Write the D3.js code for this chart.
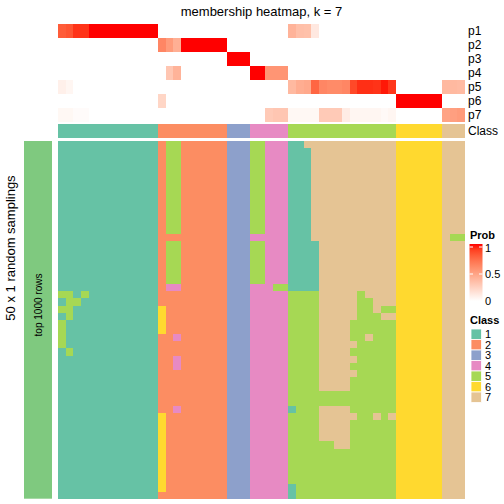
<!DOCTYPE html>
<html><head><meta charset="utf-8">
<script src="https://cdn.jsdelivr.net/npm/d3@7"></script>
<style>
html,body{margin:0;padding:0;background:#fff;}
svg{display:block;font-family:"Liberation Sans",Arial,Helvetica,sans-serif;}
</style></head>
<body><svg id="c" width="504" height="504"></svg>
<script>
// ---- data ----
const probNames = ["p1","p2","p3","p4","p5","p6","p7"];
// membership probabilities per column (53 columns, grouped by class 1..7)
const p1 = [0.80,0.83,0.93,0.93,1,1,1,1,1,1,1,1,1, 0,0,0,0,0,0,0,0,0, 0,0,0, 0,0,0,0,0, 0.40,0.34,0.33,0.12,0,0,0,0,0,0,0,0,0,0, 0,0,0,0,0,0, 0,0,0];
const p2 = [0,0,0,0,0,0,0,0,0,0,0,0,0, 0.62,0.52,0.42,1,1,1,1,1,1, 0,0,0, 0,0,0,0,0, 0,0,0,0,0,0,0,0,0,0,0,0,0,0, 0,0,0,0,0,0, 0,0,0];
const p3 = [0,0,0,0,0,0,0,0,0,0,0,0,0, 0,0,0,0,0,0,0,0,0, 1,1,1, 0,0,0,0,0, 0,0,0,0,0,0,0,0,0,0,0,0,0,0, 0,0,0,0,0,0, 0,0,0];
const p4 = [0,0,0,0,0,0,0,0,0,0,0,0,0, 0,0.30,0.40,0,0,0,0,0,0, 0,0,0, 1,1,0.55,0.55,0.55, 0,0,0,0,0,0,0,0,0,0,0,0,0,0, 0,0,0,0,0,0, 0,0,0];
const p5 = [0.08,0.05,0,0,0,0,0,0,0,0,0,0,0, 0,0,0,0,0,0,0,0,0, 0,0,0, 0,0,0,0,0, 0.37,0.43,0.45,0.76,0.62,0.60,0.60,0.62,0.87,0.94,0.94,0.93,0.98,0.92, 0,0,0,0,0,0, 0.37,0.37,0.36];
const p6 = [0,0,0,0,0,0,0,0,0,0,0,0,0, 0.22,0,0,0,0,0,0,0,0, 0,0,0, 0,0,0,0,0, 0,0,0,0,0,0,0,0,0,0,0,0,0,0, 1,1,1,1,1,1, 0,0,0];
const p7 = [0.04,0.04,0.02,0.02,0,0,0,0,0,0,0,0,0, 0,0,0,0,0,0,0,0,0, 0,0,0, 0,0,0.28,0.30,0.30, 0.04,0.04,0.04,0.04,0.28,0.28,0.28,0.10,0.05,0.05,0.05,0.05,0.03,0.05, 0,0,0,0,0,0, 0.48,0.50,0.52];
const columnClass = "1111111111111 222222222 333 44444 55555555555555 666666 777";
const classLabels = ["1","2","3","4","5","6","7"];
const classColors = ["#66C2A5","#FC8D62","#8DA0CB","#E78AC3","#A6D854","#FFD92F","#E5C494"];
const probTicks = [0, 0.5, 1];
// class assignment in each of the 50 random samplings (rows) for each column
const samplings = [
"1111111111111 2 55 222222 333 55444 11777777777777 666666 777",
"1111111111111 2 55 222222 333 55444 11177777777777 666666 777",
"1111111111111 2 55 222222 333 55444 11177777777777 666666 777",
"1111111111111 2 55 222222 333 55444 11177777777777 666666 777",
"1111111111111 2 55 222222 333 55444 11177777777777 666666 777",
"1111111111111 2 55 222222 333 55444 11177777777777 666666 777",
"1111111111111 2 55 222222 333 55444 11177777777777 666666 777",
"1111111111111 2 55 222222 333 55444 11177777777777 666666 777",
"1111111111111 2 55 222222 333 55444 11177777777777 666666 777",
"1111111111111 2 55 222222 333 55444 11177777777777 666666 777",
"1111111111111 2 55 222222 333 55444 11177777777777 666666 777",
"1111111111111 2 55 222222 333 55444 11177777777777 666666 777",
"1111111111111 2 55 222222 333 55444 11177777777777 666666 777",
"1111111111111 2 22 222222 333 44444 11177777777777 666666 755",
"1111111111111 2 55 222222 333 55444 11117777777777 666666 777",
"1111111111111 2 55 222222 333 55444 11117777777777 666666 777",
"1111111111111 2 55 222222 333 55444 11117777777777 666666 777",
"1111111111111 2 55 222222 333 55444 11117777777777 666666 777",
"1111111111111 2 55 222222 333 55444 11117777777777 666666 777",
"1111111111111 2 55 222222 333 55444 11117777777777 666666 777",
"1111111111111 2 44 222222 333 44455 11117777777777 666666 777",
"5515111111111 2 22 222222 333 44444 55557777757777 666666 777",
"1551111111111 2 22 222222 333 44444 55557777755777 666666 777",
"5511111111111 6 22 222222 333 44444 55557777755755 666666 777",
"1511111111111 6 22 222222 333 44444 55557777755577 666666 777",
"5111111111111 6 22 222222 333 44444 55557777555555 666666 777",
"5111111111111 6 22 222222 333 44444 55557777555555 666666 777",
"5111111111111 2 24 222222 333 44444 55557777557555 666666 777",
"5111111111111 2 22 222222 333 44444 55557777755555 666666 777",
"1511111111111 2 22 222222 333 44444 55557777555555 666666 777",
"1111111111111 2 24 222222 333 44444 55557777755555 666666 777",
"1111111111111 2 24 222222 333 44444 55557777555555 666666 777",
"1111111111111 2 22 222222 333 44444 55557777755555 666666 777",
"1111111111111 2 22 222222 333 44444 55557777555555 666666 777",
"1111111111111 2 22 222222 333 44444 55557777555555 666666 777",
"1111111111111 2 22 222222 333 44444 55555555555555 666666 777",
"1111111111111 2 22 222222 333 44444 55555555555555 666666 777",
"1111111111111 2 24 222222 333 44444 15557777555555 666666 777",
"1111111111111 6 22 222222 333 44444 55557777755757 666666 777",
"1111111111111 6 22 222222 333 44444 55557777555555 666666 777",
"1111111111111 6 22 222222 333 44444 55557777555555 666666 777",
"1111111111111 6 22 222222 333 44444 55557777555555 666666 777",
"1111111111111 6 22 222222 333 44444 55555577555555 666666 777",
"1111111111111 6 22 222222 333 44444 55555555555555 666666 777",
"1111111111111 6 22 222222 333 44444 55555555555555 666666 777",
"1111111111111 6 22 222222 333 44444 55555555555555 666666 777",
"1111111111111 6 22 222222 333 44444 55555555555555 666666 777",
"1111111111111 6 22 222222 333 44444 55555555555555 666666 777",
"1111111111111 6 22 222222 333 44444 15555555555555 666666 777",
"1111111111111 2 22 222222 333 44444 15555555555555 666666 777"
];
const titleText = "membership heatmap, k = 7";
const rowTitle = "50 x 1 random samplings";
const rowGroupLabel = "top 1000 rows";

// ---- build ----
const probs = [p1,p2,p3,p4,p5,p6,p7];
const colCls = columnClass.replace(/ /g,"").split("");
const grid = samplings.map(s => s.replace(/ /g,"").split(""));
const nCol = colCls.length, nRow = grid.length;

const svg = d3.select("#c");

const x = d3.scaleBand().domain(d3.range(nCol)).range([58, 465]).paddingInner(0).paddingOuter(0);
const yBody = d3.scaleBand().domain(d3.range(nRow)).range([141, 498.7]);
const yAnno = d3.scaleBand().domain(probNames).range([24, 122]);
const probColor = d3.scaleLinear().domain([0,1]).range(["#FFFFFF","#FF0000"]).interpolate(d3.interpolateLab);
const clsColor = d3.scaleOrdinal().domain(classLabels).range(classColors);

// title
svg.append("text").attr("x", 261.5).attr("y", 16).attr("text-anchor","middle")
  .attr("font-size", 13).attr("fill","#000").text(titleText);

// probability annotation rows
const annoG = svg.append("g").attr("shape-rendering","crispEdges");
probNames.forEach((nm, k) => {
  annoG.selectAll(null).data(probs[k]).enter().append("rect")
    .attr("x", (d,i) => x(i)).attr("y", yAnno(nm))
    .attr("width", x.bandwidth()+0.3).attr("height", yAnno.bandwidth())
    .attr("fill", d => probColor(d));
});
// class annotation row
annoG.selectAll(null).data(colCls).enter().append("rect")
  .attr("x", (d,i) => x(i)).attr("y", 124)
  .attr("width", x.bandwidth()+0.3).attr("height", 14)
  .attr("fill", d => clsColor(d));

// annotation labels
const annoLabels = probNames.map(n => ({t:n, y:yAnno(n)+yAnno.bandwidth()/2}));
annoLabels.push({t:"Class", y:131});
svg.selectAll(null).data(annoLabels).enter().append("text")
  .attr("x", 468).attr("y", d => d.y).attr("dy","0.36em")
  .attr("font-size", 12).attr("fill","#000").text(d => d.t);

// body heatmap
const bodyG = svg.append("g").attr("shape-rendering","crispEdges");
grid.forEach((row, r) => {
  bodyG.selectAll(null).data(row).enter().append("rect")
    .attr("x", (d,i) => x(i)).attr("y", yBody(r))
    .attr("width", x.bandwidth()+0.3).attr("height", yBody.bandwidth()+0.3)
    .attr("fill", d => clsColor(d));
});

// left group bar
svg.append("rect").attr("x",24).attr("y",141).attr("width",28).attr("height",357.7)
  .attr("fill","#7FC97F");
svg.append("text").attr("transform","translate(42,305) rotate(-90)")
  .attr("text-anchor","middle").attr("font-size",10).attr("fill","#000").text(rowGroupLabel);
svg.append("text").attr("transform","translate(15,248) rotate(-90)")
  .attr("text-anchor","middle").attr("font-size",13).attr("fill","#000").text(rowTitle);

// legend: Prob
const lg = svg.append("g");
lg.append("text").attr("x",470).attr("y",239).attr("font-size",11).attr("font-weight","bold").text("Prob");
const defs = svg.append("defs");
const grad = defs.append("linearGradient").attr("id","pg").attr("x1",0).attr("y1",1).attr("x2",0).attr("y2",0);
d3.range(0, 1.0001, 0.1).forEach(t => grad.append("stop").attr("offset", t).attr("stop-color", probColor(t)));
const yLeg = d3.scaleLinear().domain([0,1]).range([301, 247]);
lg.append("rect").attr("x",469.5).attr("y",244).attr("width",13).attr("height",57).attr("fill","url(#pg)");
probTicks.filter(t => t > 0).forEach(t => {
  lg.append("line").attr("x1",469.5).attr("x2",473).attr("y1",yLeg(t)).attr("y2",yLeg(t)).attr("stroke","#fff").attr("stroke-width",1);
  lg.append("line").attr("x1",479).attr("x2",482.5).attr("y1",yLeg(t)).attr("y2",yLeg(t)).attr("stroke","#fff").attr("stroke-width",1);
});
lg.selectAll(null).data(probTicks).enter().append("text")
  .attr("x",485).attr("y", d => yLeg(d) + (d === 1 ? 1.2 : 0)).attr("dy","0.36em").attr("font-size",11).text(d => d);

// legend: Class
lg.append("text").attr("x",470).attr("y",324).attr("font-size",11).attr("font-weight","bold").text("Class");
const yCls = d3.scaleBand().domain(classLabels).range([329, 402.5]);
lg.selectAll(null).data(classLabels).enter().append("rect")
  .attr("x",471).attr("y", d => yCls(d)).attr("width",10.5).attr("height", yCls.bandwidth())
  .attr("fill", d => clsColor(d)).attr("stroke","#fff").attr("stroke-width",0.8);
lg.selectAll(null).data(classLabels).enter().append("text")
  .attr("x",485).attr("y", d => yCls(d)+yCls.bandwidth()/2).attr("dy","0.36em").attr("font-size",11).text(d => d);
</script>
</body></html>
